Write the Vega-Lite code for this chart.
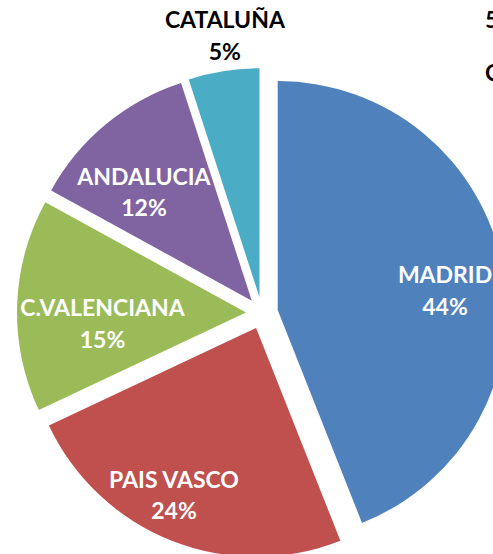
{
  "$schema": "https://vega.github.io/schema/vega-lite/v6.json",
  "width": 524,
  "height": 626,
  "autosize": "none",
  "padding": 0,
  "background": "white",
  "config": {"view": {"stroke": null}},
  "title": {
    "text": ["5", "C"],
    "anchor": "end",
    "frame": "group",
    "align": "left",
    "dx": -39,
    "offset": -86,
    "baseline": "top",
    "font": "Lato",
    "fontWeight": "bold",
    "fontSize": 23,
    "lineHeight": 53,
    "color": "black"
  },
  "data": {
    "values": [
      {"name": "MADRID", "value": 0.44},
      {"name": "PAIS VASCO", "value": 0.24},
      {"name": "C.VALENCIANA", "value": 0.15},
      {"name": "ANDALUCIA", "value": 0.12},
      {"name": "CATALUÑA", "value": 0.05}
    ]
  },
  "encoding": {
    "theta": {"field": "value", "type": "quantitative", "stack": true},
    "order": {"field": "value", "sort": "descending"},
    "color": {
      "field": "name",
      "type": "nominal",
      "scale": {
        "domain": ["MADRID", "PAIS VASCO", "C.VALENCIANA", "ANDALUCIA", "CATALUÑA"],
        "range": ["#4F81BD", "#C0504D", "#9BBB59", "#8064A2", "#4BACC6"]
      },
      "legend": null
    }
  },
  "layer": [
    {"mark": {"type": "arc", "radius": 229, "xOffset": 15.7, "yOffset": -3.0},
     "encoding": {"opacity": {"condition": {"test": "datum.name === 'MADRID'", "value": 1}, "value": 0}}},
    {"mark": {"type": "arc", "radius": 229, "xOffset": -5.9, "yOffset": 14.9},
     "encoding": {"opacity": {"condition": {"test": "datum.name === 'PAIS VASCO'", "value": 1}, "value": 0}}},
    {"mark": {"type": "arc", "radius": 229, "xOffset": -16.0, "yOffset": -0.5},
     "encoding": {"opacity": {"condition": {"test": "datum.name === 'C.VALENCIANA'", "value": 1}, "value": 0}}},
    {"mark": {"type": "arc", "radius": 229, "xOffset": -10.2, "yOffset": -12.3},
     "encoding": {"opacity": {"condition": {"test": "datum.name === 'ANDALUCIA'", "value": 1}, "value": 0}}},
    {"mark": {"type": "arc", "radius": 229, "xOffset": -2.5, "yOffset": -15.8},
     "encoding": {"opacity": {"condition": {"test": "datum.name === 'CATALUÑA'", "value": 1}, "value": 0}}},

    {"mark": {"type": "text", "radius": 184.3, "xOffset": 2, "yOffset": -2.3, "font": "Lato", "fontWeight": "bold", "fontSize": 23},
     "encoding": {"text": {"field": "name"}, "color": {"value": "white"}, "opacity": {"condition": {"test": "datum.name === 'MADRID'", "value": 1}, "value": 0}}},
    {"mark": {"type": "text", "radius": 184.3, "xOffset": 2, "yOffset": 29.2, "font": "Lato", "fontWeight": "bold", "fontSize": 23},
     "encoding": {"text": {"field": "value", "type": "quantitative", "format": ".0%"}, "color": {"value": "white"}, "opacity": {"condition": {"test": "datum.name === 'MADRID'", "value": 1}, "value": 0}}},

    {"mark": {"type": "text", "radius": 202.6, "xOffset": -13.4, "yOffset": -20.7, "font": "Lato", "fontWeight": "bold", "fontSize": 23},
     "encoding": {"text": {"field": "name"}, "color": {"value": "white"}, "opacity": {"condition": {"test": "datum.name === 'PAIS VASCO'", "value": 1}, "value": 0}}},
    {"mark": {"type": "text", "radius": 202.6, "xOffset": -13.4, "yOffset": 10.8, "font": "Lato", "fontWeight": "bold", "fontSize": 23},
     "encoding": {"text": {"field": "value", "type": "quantitative", "format": ".0%"}, "color": {"value": "white"}, "opacity": {"condition": {"test": "datum.name === 'PAIS VASCO'", "value": 1}, "value": 0}}},

    {"mark": {"type": "text", "radius": 159.9, "xOffset": 0.3, "yOffset": 1.2, "font": "Lato", "fontWeight": "bold", "fontSize": 23},
     "encoding": {"text": {"field": "name"}, "color": {"value": "white"}, "opacity": {"condition": {"test": "datum.name === 'C.VALENCIANA'", "value": 1}, "value": 0}}},
    {"mark": {"type": "text", "radius": 159.9, "xOffset": 0.3, "yOffset": 32.7, "font": "Lato", "fontWeight": "bold", "fontSize": 23},
     "encoding": {"text": {"field": "value", "type": "quantitative", "format": ".0%"}, "color": {"value": "white"}, "opacity": {"condition": {"test": "datum.name === 'C.VALENCIANA'", "value": 1}, "value": 0}}},

    {"mark": {"type": "text", "radius": 168.7, "xOffset": -10.5, "yOffset": -5.4, "font": "Lato", "fontWeight": "bold", "fontSize": 23},
     "encoding": {"text": {"field": "name"}, "color": {"value": "white"}, "opacity": {"condition": {"test": "datum.name === 'ANDALUCIA'", "value": 1}, "value": 0}}},
    {"mark": {"type": "text", "radius": 168.7, "xOffset": -10.5, "yOffset": 26.1, "font": "Lato", "fontWeight": "bold", "fontSize": 23},
     "encoding": {"text": {"field": "value", "type": "quantitative", "format": ".0%"}, "color": {"value": "white"}, "opacity": {"condition": {"test": "datum.name === 'ANDALUCIA'", "value": 1}, "value": 0}}},

    {"mark": {"type": "text", "radius": 279.5, "xOffset": 6.6, "yOffset": -15.7, "font": "Lato", "fontWeight": "bold", "fontSize": 23},
     "encoding": {"text": {"field": "name"}, "color": {"value": "black"}, "opacity": {"condition": {"test": "datum.name === 'CATALUÑA'", "value": 1}, "value": 0}}},
    {"mark": {"type": "text", "radius": 279.5, "xOffset": 6.6, "yOffset": 15.8, "font": "Lato", "fontWeight": "bold", "fontSize": 23},
     "encoding": {"text": {"field": "value", "type": "quantitative", "format": ".0%"}, "color": {"value": "black"}, "opacity": {"condition": {"test": "datum.name === 'CATALUÑA'", "value": 1}, "value": 0}}}
  ]
}
